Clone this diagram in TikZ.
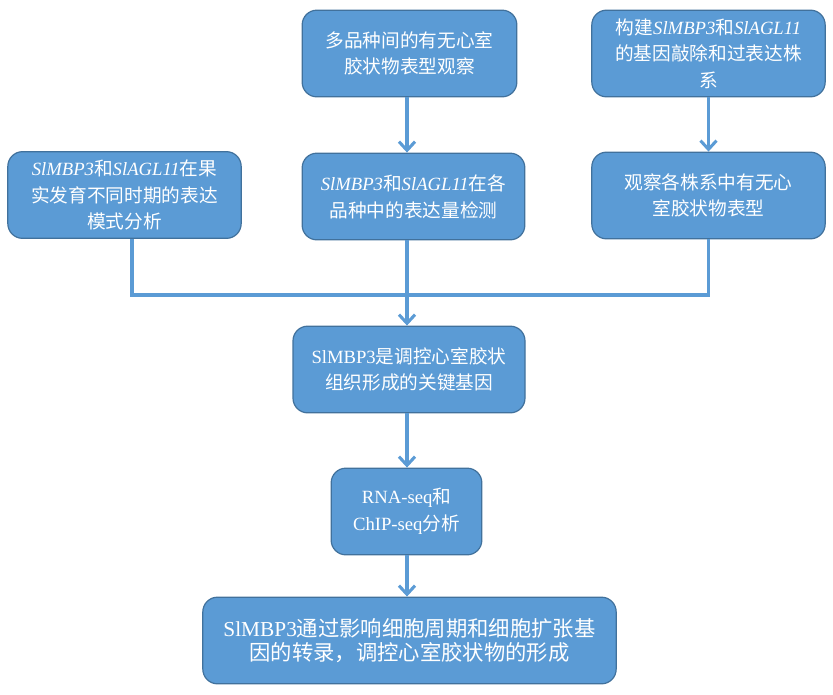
\documentclass[tikz,border=0pt]{standalone}
\usepackage{fontspec}
\setmainfont{Noto Sans CJK SC}
\newfontfamily\latin{Liberation Serif}
\usetikzlibrary{arrows.meta}
\definecolor{boxfill}{HTML}{5B9BD5}
\definecolor{boxline}{HTML}{41719C}
\newcommand{\gene}[1]{{\latin\itshape #1}}
\newcommand{\lat}[1]{{\latin #1}}
\tikzset{
  flowbox/.style={draw=boxline, line width=0.9pt, fill=boxfill, rounded corners=11pt,
    text=white, align=center, inner sep=0pt, font=\fontsize{14}{20}\selectfont},
  flowline/.style={draw=boxfill, line width=2.5pt},
  flowarrow/.style={flowline, -{Straight Barb[length=6.5pt,width=12pt,line width=2.3pt]}}
}
\begin{document}
\begin{tikzpicture}[x=0.75pt,y=0.75pt,yscale=-1,xscale=1]
\useasboundingbox (0,0) rectangle (833,694);

\node [flowbox, minimum width=161pt, minimum height=65pt] (varieties) at (409.5,53.5) {多品种间的有无心室\\胶状物表型观察};
\node [flowbox, minimum width=175pt, minimum height=65pt] (lines) at (708.5,53.5) {构建\gene{SlMBP3}和\gene{SlAGL11}\\的基因敲除和过表达株\\系};
\node [flowbox, minimum width=175pt, minimum height=65pt] (pattern) at (124.5,195) {\gene{SlMBP3}和\gene{SlAGL11}在果\\实发育不同时期的表达\\模式分析};
\node [flowbox, minimum width=167pt, minimum height=65pt] (level) at (413.5,196.5) {\gene{SlMBP3}和\gene{SlAGL11}在各\\品种中的表达量检测};
\node [flowbox, minimum width=175pt, minimum height=65pt] (pheno) at (708.5,195.5) {观察各株系中有无心\\室胶状物表型};
\node [flowbox, minimum width=174pt, minimum height=65pt] (key) at (409,369.5) {\lat{SlMBP3}是调控心室胶状\\组织形成的关键基因};
\node [flowbox, minimum width=113pt, minimum height=65pt] (seq) at (406.5,511.5) {\lat{RNA-seq}和\\\lat{ChIP-seq}分析};
\node [flowbox, minimum width=310pt, minimum height=65pt, font=\fontsize{16}{18}\selectfont] (result) at (409.5,640.5) {\lat{SlMBP3}通过影响细胞周期和细胞扩张基\\因的转录，调控心室胶状物的形成};

\coordinate (join) at (407,295);

\draw [flowarrow] (varieties.south -| join) -- (level.north -| join);
\draw [flowarrow] (lines.south) -- (pheno.north);
\draw [flowline] ([xshift=5.5pt]pattern.south) |- (join);
\draw [flowline] (level.south -| join) -- (join);
\draw [flowline] (pheno.south) |- (join);
\draw [flowarrow] (join) -- (key.north -| join);
\draw [flowarrow] (key.south -| join) -- (seq.north -| join);
\draw [flowarrow] (seq.south -| join) -- (result.north -| join);

\end{tikzpicture}
\end{document}
